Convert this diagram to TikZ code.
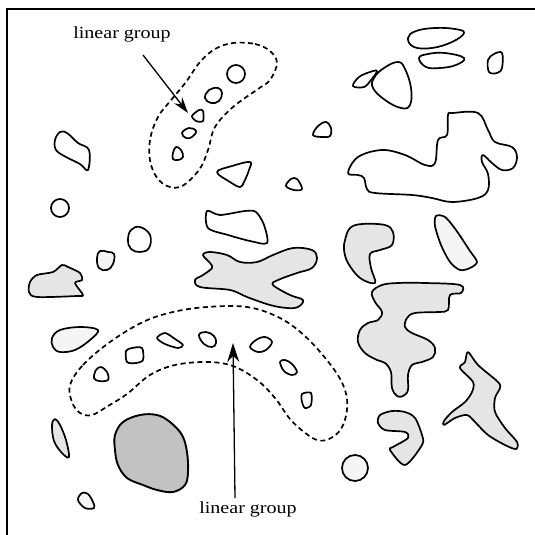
\documentclass[tikz,border=0pt]{standalone}
\usepackage{fontspec}
\setmainfont{Liberation Serif}
\usetikzlibrary{arrows.meta}
\begin{document}
\begin{tikzpicture}[x=1pt,y=-1pt,
  blob/.style={draw, line width=1.7pt, line join=round},
  stip/.style={blob, fill=black!10},
  lstip/.style={blob, fill=black!4},
  dstip/.style={blob, fill=black!24},
  dloop/.style={draw, line width=1.7pt, dash pattern=on 5pt off 3.5pt},
  arr/.style={line width=1.3pt, -{Stealth[length=16pt,width=10pt]}},
  lbl/.style={font=\fontsize{17}{20}\selectfont, inner sep=0pt, anchor=base}]
\useasboundingbox (0,0) rectangle (535,535);
% frame
\draw[line width=1.6pt] (7,535) -- (7,9) -- (535,9);

% labels
\node[lbl] (lt) at (122,39) {\scalebox{1.18}[1]{linear group}};
\node[lbl] (lb) at (248,513) {\scalebox{1.18}[1]{linear group}};
\coordinate (a1s) at (143,55);
\coordinate (a1e) at (188,113);
\coordinate (a2s) at (235,498);
\coordinate (a2e) at (233,343);
\draw[arr] (a1s) -- (a1e);
\draw[arr, -{Stealth[length=19pt,width=12pt]}] (a2s) -- (a2e);

% dashed loops
\draw[dloop] plot[smooth cycle, tension=0.6] coordinates {(233,43) (255,44) (270,51) (277,63) (270,80) (258,89) (233,107) (215,127) (208,150) (199,170) (180,187) (162,183) (151,165) (150,140) (158,117) (172,99) (186,82) (200,62) (215,49)};
\draw[dloop] plot[smooth cycle, tension=0.6] coordinates {(70,385) (83,365) (110,342) (143,322) (173,312) (207,307) (247,307) (280,318) (307,338) (333,368) (345,390) (347,410) (341,429) (329,439) (317,440) (304,432) (290,419) (275,398) (257,380) (233,366) (207,362) (175,365) (150,375) (127,394) (108,406) (92,415) (80,413) (72,402)};

% shapes inside top loop
\draw[blob] (236,74) circle (9);
\draw[blob] plot[smooth cycle, tension=0.7] coordinates {(205,98) (209,90) (218,88) (222,93) (219,101) (211,103)};
\draw[blob] plot[smooth cycle, tension=0.5] coordinates {(192,116) (199,110) (203,111) (203,121) (196,121)};
\draw[blob] plot[smooth cycle, tension=0.7] coordinates {(182,133) (189,128) (196,131) (192,137) (186,138)};
\draw[blob] plot[smooth cycle, tension=0.7] coordinates {(173,153) (176,147) (181,150) (183,157) (178,160) (173,159)};

% top right group
\draw[blob] plot[smooth cycle, tension=0.7] coordinates {(408,38) (416,31) (435,28) (455,29) (464,33) (452,42) (432,48) (414,47)};
\draw[blob] plot[smooth cycle, tension=0.7] coordinates {(419,58) (428,54) (445,53) (464,58) (456,65) (440,68) (426,67)};
\draw[blob] plot[smooth cycle, tension=0.6] coordinates {(488,60) (494,54) (502,53) (502,68) (497,73) (489,72)};
\draw[blob] plot[smooth cycle, tension=0.6] coordinates {(353,86) (359,77) (370,72) (377,71) (371,80) (364,87)};
\draw[blob] plot[smooth cycle, tension=0.7] coordinates {(398,62) (405,69) (411,88) (410,105) (401,108) (385,100) (373,88) (374,78) (384,68)};
\draw[blob] plot[smooth cycle, tension=0.6] coordinates {(313,135) (318,126) (326,122) (331,128) (330,136) (322,137)};
\draw[blob] plot[smooth cycle, tension=0.6] coordinates {(286,186) (291,179) (297,179) (302,189) (294,190)};
% big cloud
\draw[blob] plot[smooth cycle, tension=0.6] coordinates {(348,173) (358,157) (382,150) (405,155) (425,165) (435,163) (438,140) (447,135) (448,115) (453,113) (478,113) (488,130) (495,142) (512,147) (517,157) (513,168) (502,170) (492,163) (483,155) (482,162) (488,174) (488,190) (478,198) (452,202) (432,198) (412,195) (375,193) (367,189) (364,178) (358,175)};

% left column / middle
\draw[blob] plot[smooth cycle, tension=0.6] coordinates {(217,172) (232,166) (250,162) (249,170) (244,182) (240,187) (230,182)};
\draw[blob] plot[smooth cycle, tension=0.6] coordinates {(55,140) (60,132) (67,133) (78,143) (89,150) (88,170) (80,164) (66,157) (56,150)};
\draw[blob] (60,208) circle (9);
\draw[blob] plot[smooth cycle, tension=0.7] coordinates {(128,240) (131,230) (140,227) (150,235) (149,248) (140,252) (131,249)};
\draw[lstip] plot[smooth cycle, tension=0.7] coordinates {(97,258) (100,251) (108,252) (114,254) (113,264) (107,270) (99,268)};
\draw[blob] plot[smooth cycle, tension=0.5] coordinates {(207,211) (220,215) (245,211) (256,212) (264,225) (267,243) (250,241) (228,235) (208,228)};
\draw[stip] plot[smooth cycle, tension=0.6] coordinates {(345,240) (350,228) (362,224) (385,225) (393,232) (392,245) (380,250) (370,254) (371,268) (375,283) (360,278) (348,263) (344,250)};
\draw[lstip] plot[smooth cycle, tension=0.5] coordinates {(436,216) (445,217) (456,230) (470,251) (477,262) (470,268) (460,270) (450,262) (441,245) (435,226)};
\draw[stip] plot[smooth cycle, tension=0.5] coordinates {(30,282) (37,275) (53,272) (62,265) (68,267) (80,273) (82,280) (75,283) (83,295) (77,296) (37,297) (29,292)};
\draw[stip] plot[smooth cycle, tension=0.6] coordinates {(203,255) (210,252) (227,255) (240,262) (257,262) (273,255) (293,248) (312,250) (317,258) (312,268) (297,273) (278,280) (273,285) (290,295) (303,300) (298,307) (287,308) (270,305) (247,297) (230,290) (200,287) (195,280) (203,275) (212,268) (210,263)};

% lower loop area
\draw[lstip] plot[smooth cycle, tension=0.6] coordinates {(52,338) (60,330) (80,327) (98,330) (90,340) (75,350) (60,352) (53,347)};
\draw[blob] plot[smooth cycle, tension=0.5] coordinates {(157,338) (165,333) (175,339) (183,345) (178,348) (165,344)};
\draw[blob] plot[smooth cycle, tension=0.7] coordinates {(199,335) (206,332) (214,336) (216,343) (212,347) (204,344)};
\draw[blob] plot[smooth cycle, tension=0.6] coordinates {(250,347) (256,340) (265,337) (272,342) (266,350) (258,352)};
\draw[blob] plot[smooth cycle, tension=0.5] coordinates {(126,351) (132,348) (142,348) (143,360) (136,363) (127,362)};
\draw[blob] plot[smooth cycle, tension=0.6] coordinates {(94,378) (96,370) (101,367) (107,372) (108,380) (99,381)};
\draw[blob] plot[smooth cycle, tension=0.6] coordinates {(280,362) (285,360) (292,364) (297,372) (292,375) (284,371)};
\draw[blob] plot[smooth cycle, tension=0.5] coordinates {(302,394) (311,393) (311,405) (305,408) (302,402)};

% right side stippled
\draw[stip] plot[smooth cycle, tension=0.6] coordinates {(372,292) (382,285) (398,283) (425,283) (460,285) (461,293) (450,295) (448,310) (438,312) (415,313) (407,318) (405,327) (412,333) (428,340) (435,348) (433,357) (422,362) (412,365) (408,375) (408,390) (403,396) (397,396) (392,388) (391,372) (385,363) (377,360) (365,353) (358,342) (360,330) (368,323) (378,320) (382,312) (375,302)};
\draw[stip] plot[smooth cycle, tension=0.5] coordinates {(468,352) (478,365) (498,382) (500,388) (495,398) (495,412) (505,428) (517,442) (516,449) (505,445) (488,435) (475,422) (467,415) (455,418) (444,425) (444,421) (452,412) (465,402) (472,392) (473,382) (460,368) (465,362)};
\draw[stip] plot[smooth cycle, tension=0.5] coordinates {(380,415) (392,411) (405,412) (415,418) (422,435) (422,445) (405,465) (390,450) (393,447) (408,438) (405,432) (385,430) (378,423)};
\draw[lstip] (355,468) circle (13);

% lower left
\draw[stip] plot[smooth cycle, tension=0.6] coordinates {(55,419) (60,425) (66,440) (69,457) (62,453) (54,441) (52,425)};
\draw[dstip, line width=1.9pt] plot[smooth cycle, tension=0.6] coordinates {(115,435) (123,422) (140,415) (157,415) (170,422) (182,435) (187,452) (188,472) (185,485) (173,492) (157,490) (143,485) (127,478) (118,465) (115,450)};
\draw[lstip] plot[smooth cycle, tension=0.6] coordinates {(78,500) (82,493) (88,494) (93,502) (94,508) (85,508)};
\end{tikzpicture}
\end{document}
